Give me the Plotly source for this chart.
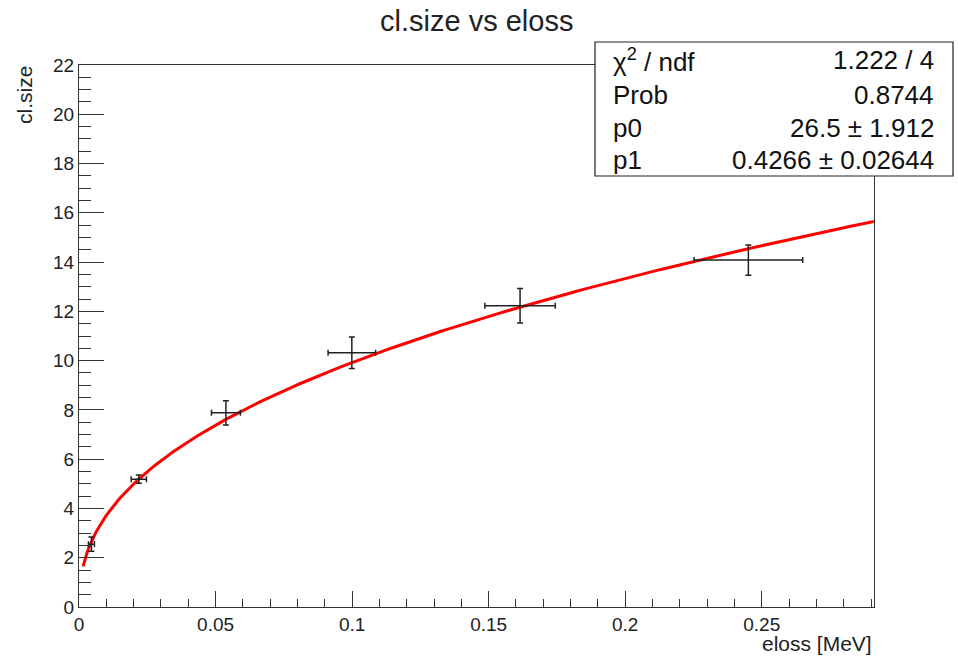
import numpy as np
import plotly.graph_objects as go

# Data points
eloss = [0.00455, 0.0219, 0.0538, 0.0999, 0.1615, 0.2451]
eloss_err = [0.0011, 0.0028, 0.0053, 0.0087, 0.0129, 0.0199]
clsize = [2.55, 5.19, 7.88, 10.32, 12.23, 14.08]
clsize_err = [0.29, 0.17, 0.49, 0.64, 0.70, 0.61]

# Fit result p0 * x^p1
p0 = 26.5
p1 = 0.4266
fit_xmin = 0.0015
fit_xmax = 0.2911

stat_labels = ["χ<sup style='font-size:60%'>2</sup> / ndf", "Prob", "p0", "p1"]
stat_values = ["1.222 / 4", "0.8744", "26.5 ± 1.912", "0.4266 ± 0.02644"]

W, H = 958, 656
L, R, T, B = 79, 874, 65, 607

def px(xp):
    return (xp - L) / (R - L)

def py(yp):
    return (B - yp) / (B - T)

fx = np.linspace(fit_xmin, fit_xmax, 400)
fy = p0 * fx ** p1

FONT = "Liberation Sans, Arial, Helvetica, sans-serif"

fig = go.Figure()
fig.add_trace(go.Scatter(
    x=fx, y=fy, mode="lines",
    line=dict(color="#ff0000", width=3),
    hoverinfo="skip", showlegend=False,
))
fig.add_trace(go.Scatter(
    x=eloss, y=clsize, mode="markers",
    marker=dict(size=1, color="black"),
    error_x=dict(type="data", array=eloss_err, color="#222222", thickness=1.5, width=3),
    error_y=dict(type="data", array=clsize_err, color="#222222", thickness=1.5, width=3),
    showlegend=False,
))

axis_common = dict(
    showgrid=False, zeroline=False,
    showline=True, linecolor="#333333", linewidth=1.2, mirror=True,
    ticks="inside", tickcolor="#333333", tickwidth=1.2,
    tickfont=dict(family=FONT, size=19, color="#222222"),
)

fig.update_xaxes(
    range=[0, fit_xmax], tick0=0, dtick=0.05, ticklen=16,
    minor=dict(dtick=0.01, ticks="inside", ticklen=8, tickcolor="#333333", tickwidth=1.2),
    **axis_common,
)
fig.update_yaxes(
    range=[0, 22], tick0=0, dtick=2, ticklen=25,
    minor=dict(dtick=0.5, ticks="inside", ticklen=12, tickcolor="#333333", tickwidth=1.2),
    **axis_common,
)

annotations = [
    dict(text="cl.size vs eloss", x=px(476), y=py(21), xref="paper", yref="paper",
         showarrow=False, xanchor="center", yanchor="middle",
         font=dict(family=FONT, size=29, color="#222222")),
    dict(text="eloss [MeV]", x=px(874), y=py(643), xref="paper", yref="paper",
         showarrow=False, xanchor="right", yanchor="middle",
         font=dict(family=FONT, size=21, color="#222222")),
    dict(text="cl.size", x=px(25), y=py(64), xref="paper", yref="paper",
         showarrow=False, xanchor="center", yanchor="top", textangle=-90,
         font=dict(family=FONT, size=21, color="#222222")),
]

row_y = [60, 95, 128, 160]
for lab, val, ry in zip(stat_labels, stat_values, row_y):
    annotations.append(dict(text=lab, x=px(611), y=py(ry), xref="paper", yref="paper",
                            showarrow=False, xanchor="left", yanchor="middle",
                            font=dict(family=FONT, size=26, color="#111111")))
    annotations.append(dict(text=val, x=px(936), y=py(ry), xref="paper", yref="paper",
                            showarrow=False, xanchor="right", yanchor="middle",
                            font=dict(family=FONT, size=26, color="#111111")))

fig.update_layout(
    width=W, height=H,
    margin=dict(l=L, r=W - R, t=T, b=H - B),
    paper_bgcolor="white", plot_bgcolor="white",
    annotations=annotations,
    shapes=[dict(type="rect", xref="paper", yref="paper",
                 x0=px(595), x1=px(953), y0=py(176), y1=py(42),
                 line=dict(color="#222222", width=1.2), fillcolor="white", layer="above")],
)

fig.write_html("out.html")
